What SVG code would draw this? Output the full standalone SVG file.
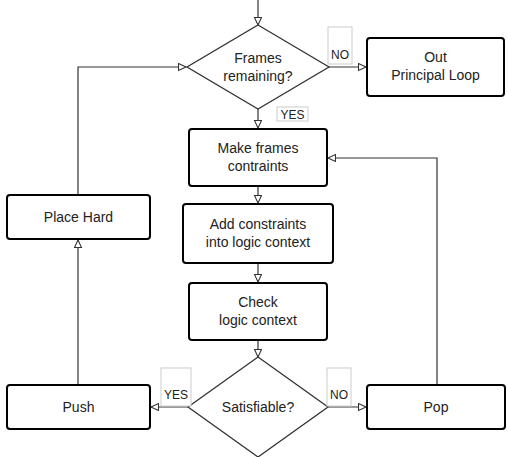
<svg xmlns="http://www.w3.org/2000/svg" width="508" height="457" viewBox="0 0 508 457">
<style>
.box{fill:#fff;stroke:#000;stroke-width:2}
.dia{fill:#fff;stroke:#333;stroke-width:1.3}
.t{font-family:"Liberation Sans",Arial,sans-serif;font-size:14px;fill:#222;text-anchor:middle}
.lb{fill:#fff;stroke:#ccc;stroke-width:1}
.lt{font-family:"Liberation Sans",Arial,sans-serif;font-size:12px;fill:#222;text-anchor:middle}
.c{fill:none;stroke:#333;stroke-width:1.2;marker-end:url(#a)}
</style>
<defs>
<marker id="a" markerUnits="userSpaceOnUse" markerWidth="10" markerHeight="10" refX="8" refY="4" orient="auto">
<path d="M0.5,0.5 L8,4 L0.5,7.5 Z" fill="#fff" stroke="#333" stroke-width="1.1"/>
</marker>
</defs>
<g id="connectors">
<path class="c" d="M258,0 V25"/>
<path class="c" d="M328,67 H366"/>
<path class="c" d="M258,109 V128"/>
<path class="c" d="M258,186 V203"/>
<path class="c" d="M258,263 V282"/>
<path class="c" d="M258,340 V357"/>
<path class="c" d="M188,407 H151"/>
<path class="c" d="M328,407 H366"/>
<path class="c" d="M78,385 V240"/>
<path class="c" d="M78,195 V67 H186"/>
<path class="c" d="M437,385 V158 H328"/>
</g>
<g id="frames-remaining">
<polygon class="dia" points="258,25 329,67 258,109 187,67"/>
<text class="t" x="258" y="63">Frames</text>
<text class="t" x="258" y="81">remaining?</text>
</g>
<g id="label-no-top">
<rect class="lb" x="328" y="27" width="24" height="37"/>
<text class="lt" x="340" y="59">NO</text>
</g>
<g id="label-yes-top">
<rect class="lb" x="277" y="107" width="31" height="14"/>
<text class="lt" x="292.5" y="119">YES</text>
</g>
<g id="out-principal-loop">
<rect class="box" x="367" y="38" width="137" height="58" rx="3"/>
<text class="t" x="435.5" y="62">Out</text>
<text class="t" x="435.5" y="80">Principal Loop</text>
</g>
<g id="make-frames">
<rect class="box" x="189" y="129" width="138" height="57" rx="3"/>
<text class="t" x="258" y="153">Make frames</text>
<text class="t" x="258" y="171">contraints</text>
</g>
<g id="add-constraints">
<rect class="box" x="183" y="204" width="150" height="59" rx="3"/>
<text class="t" x="258" y="229">Add constraints</text>
<text class="t" x="258" y="247">into logic context</text>
</g>
<g id="check-logic">
<rect class="box" x="189" y="283" width="138" height="57" rx="3"/>
<text class="t" x="258" y="307">Check</text>
<text class="t" x="258" y="325">logic context</text>
</g>
<g id="satisfiable">
<polygon class="dia" points="258,357 328,407 258,457 188,407"/>
<text class="t" x="258" y="412">Satisfiable?</text>
</g>
<g id="label-yes-bottom">
<rect class="lb" x="161" y="368" width="30" height="38"/>
<text class="lt" x="176" y="399">YES</text>
</g>
<g id="label-no-bottom">
<rect class="lb" x="327" y="368" width="24" height="38"/>
<text class="lt" x="339" y="399">NO</text>
</g>
<g id="place-hard">
<rect class="box" x="7" y="195" width="143" height="44" rx="3"/>
<text class="t" x="78.5" y="222">Place Hard</text>
</g>
<g id="push">
<rect class="box" x="7" y="385" width="143" height="44" rx="3"/>
<text class="t" x="78.5" y="412">Push</text>
</g>
<g id="pop">
<rect class="box" x="367" y="385" width="138" height="44" rx="3"/>
<text class="t" x="436" y="412">Pop</text>
</g>
</svg>
